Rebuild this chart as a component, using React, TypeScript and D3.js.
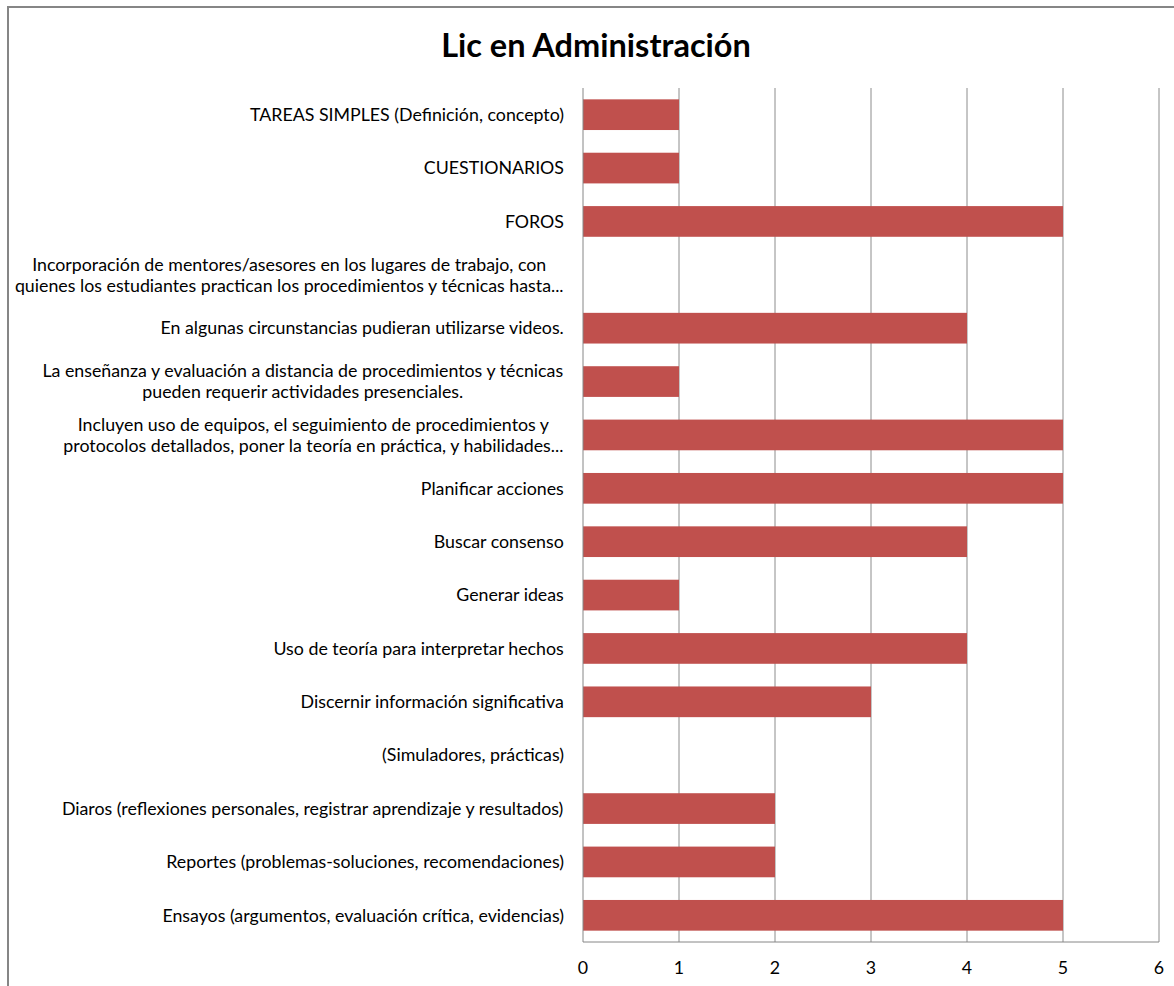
import React from "react";
import * as d3 from "d3";

const title = "Lic en Administración";
const categories: string[][] = [
  ["TAREAS SIMPLES (Definición, concepto)"],
  ["CUESTIONARIOS"],
  ["FOROS"],
  ["Incorporación de mentores/asesores en los lugares de trabajo, con", "quienes los estudiantes practican los procedimientos y técnicas hasta..."],
  ["En algunas circunstancias pudieran utilizarse videos."],
  ["La enseñanza y evaluación a distancia de procedimientos y técnicas", "pueden requerir actividades presenciales."],
  ["Incluyen uso de equipos, el seguimiento de procedimientos y", "protocolos detallados, poner la teoría en práctica, y habilidades..."],
  ["Planificar acciones"],
  ["Buscar consenso"],
  ["Generar ideas"],
  ["Uso de teoría para interpretar hechos"],
  ["Discernir información significativa"],
  ["(Simuladores, prácticas)"],
  ["Diaros (reflexiones personales, registrar aprendizaje y resultados)"],
  ["Reportes (problemas-soluciones, recomendaciones)"],
  ["Ensayos (argumentos, evaluación crítica, evidencias)"],
];
const values: (number | null)[] = [1, 1, 5, null, 4, 1, 5, 5, 4, 1, 4, 3, null, 2, 2, 5];
const xTicks = [0, 1, 2, 3, 4, 5, 6];

const W = 1174;
const H = 986;
const FONT = "Lato, 'Open Sans', sans-serif";
const LABEL_SIZE = 17.8;

let ctx: CanvasRenderingContext2D | null = null;
function measure(t: string): number {
  if (!ctx) ctx = document.createElement("canvas").getContext("2d");
  if (!ctx) return t.length * 8;
  ctx.font = `${LABEL_SIZE}px ${FONT}`;
  return ctx.measureText(t).width;
}

export default function App() {
  const left = 583, right = 1159, top = 88, bottom = 942;
  const x = d3.scaleLinear().domain([0, 6]).range([left, right]);
  const ids = categories.map((_, i) => String(i));
  const y = d3.scaleBand<string>().domain(ids).range([top, bottom]).paddingInner(0.425).paddingOuter(0.2125);
  const labelRight = 564;
  const lineH = 21;
  return (
    <svg width={W} height={H} style={{ position: "absolute", left: 0, top: 0, background: "#fff" }}>
      <rect x={8} y={7} width={W + 20} height={H + 20} fill="#fff" stroke="#868686" strokeWidth={2} />
      <text x={596} y={57} textAnchor="middle" fontFamily={FONT} fontWeight="bold" fontSize={32.5} fill="#000">{title}</text>
      {xTicks.slice(1).map((t) => (
        <line key={t} x1={x(t)} x2={x(t)} y1={top} y2={bottom} stroke="#8c8c8c" strokeWidth={1} />
      ))}
      {values.map((v, i) =>
        v ? (
          <rect key={i} x={x(0)} y={y(ids[i])!} width={x(v) - x(0)} height={y.bandwidth()} fill="#C0504D" />
        ) : null
      )}
      <line x1={left} x2={left} y1={top} y2={bottom} stroke="#868686" strokeWidth={1} />
      <line x1={left} x2={right} y1={bottom} y2={bottom} stroke="#868686" strokeWidth={1} />
      {categories.map((lines, i) => {
        const cy = y(ids[i])! + y.bandwidth() / 2;
        const maxW = Math.max(...lines.map(measure));
        const cx = labelRight - maxW / 2;
        const y0 = cy - ((lines.length - 1) * lineH) / 2;
        return (
          <text key={i} fontFamily={FONT} fontSize={LABEL_SIZE} fill="#000" textAnchor="middle">
            {lines.map((l, j) => (
              <tspan key={j} x={cx} y={y0 + j * lineH} dy="0.35em">{l}</tspan>
            ))}
          </text>
        );
      })}
      {xTicks.map((t) => (
        <text key={t} x={x(t)} y={968} dy="0.35em" textAnchor="middle" fontFamily={FONT} fontSize={LABEL_SIZE} fill="#000">{t}</text>
      ))}
    </svg>
  );
}
